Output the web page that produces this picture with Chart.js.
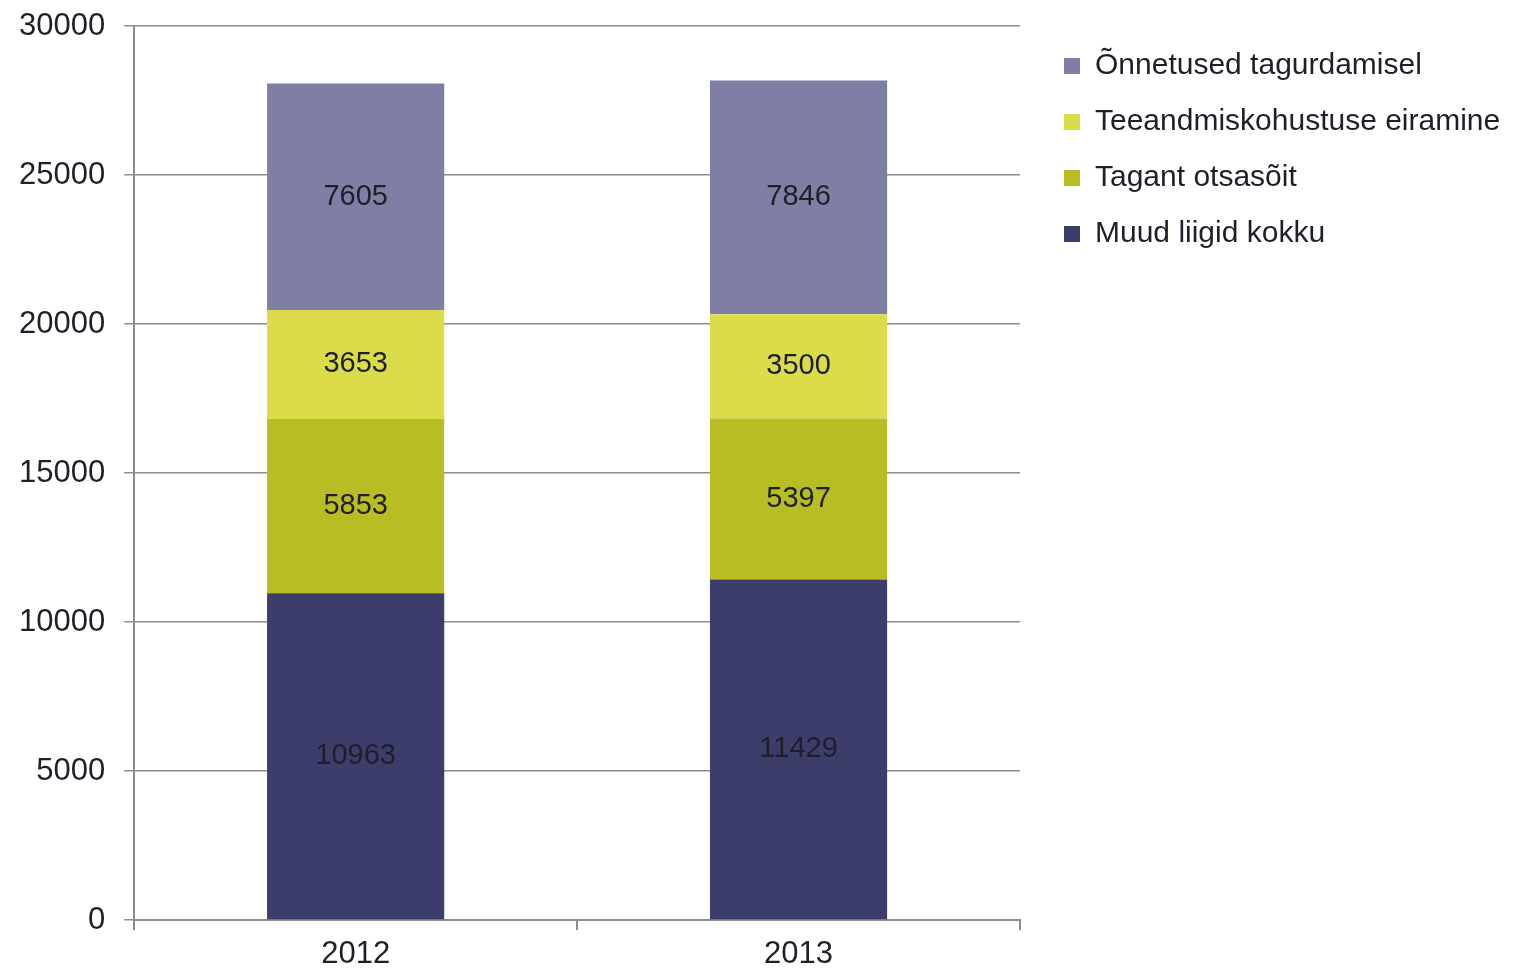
<!DOCTYPE html>
<html>
<head>
<meta charset="utf-8">
<script src="https://cdn.jsdelivr.net/npm/chart.js@4/dist/chart.umd.min.js"></script>
<style>
  html, body { margin: 0; padding: 0; background: #fff; }
  #wrap { width: 1532px; height: 971px; }
</style>
</head>
<body>
<div id="wrap"><canvas id="chart"></canvas></div>
<script>
// andmed (alt ülespoole)
const years = ['2012', '2013'];
const muudLiigid = [10963, 11429];
const tagantOtsasoit = [5853, 5397];
const teeandmine = [3653, 3500];
const tagurdamine = [7605, 7846];
const yTicks = [0, 5000, 10000, 15000, 20000, 25000, 30000];

const FONT = 'Liberation Sans, Arial, sans-serif';

// väärtused tulpade keskele
const valueLabels = {
    id: 'valueLabels',
    afterDatasetsDraw(chart) {
        const ctx = chart.ctx;
        ctx.save();
        ctx.font = '29px ' + FONT;
        ctx.fillStyle = '#1f1f2a';
        ctx.textAlign = 'center';
        ctx.textBaseline = 'middle';
        chart.data.datasets.forEach((ds, i) => {
            chart.getDatasetMeta(i).data.forEach((bar, j) => {
                const mid = (bar.y + bar.base) / 2;
                ctx.fillText(ds.data[j], bar.x, mid);
            });
        });
        ctx.restore();
    }
};

// legendi laius ja asukoht
const legendFit = {
    id: 'legendFit',
    beforeInit(chart) {
        const origFit = chart.legend.fit;
        chart.legend.fit = function () {
            origFit.bind(this)();
            this.width = 512;
        };
    },
    afterLayout(chart) {
        chart.legend.left += 18;
        chart.legend.top -= 1;
    }
};

new Chart(document.getElementById('chart'), {
    type: 'bar',
    data: {
        labels: years,
        datasets: [
            { label: 'Muud liigid kokku', data: muudLiigid, backgroundColor: '#3d3d6c' },
            { label: 'Tagant otsasõit', data: tagantOtsasoit, backgroundColor: '#b9bd24' },
            { label: 'Teeandmiskohustuse eiramine', data: teeandmine, backgroundColor: '#dcdc4b' },
            { label: 'Õnnetused tagurdamisel', data: tagurdamine, backgroundColor: '#7f7fa5' }
        ]
    },
    options: {
        responsive: true,
        maintainAspectRatio: false,
        animation: false,
        layout: { padding: { left: 0, top: 26, right: 0, bottom: -8 } },
        datasets: { bar: { categoryPercentage: 1, barPercentage: 0.4 } },
        plugins: {
            tooltip: { enabled: false },
            legend: {
                position: 'right',
                align: 'start',
                reverse: true,
                labels: {
                    boxWidth: 16,
                    boxHeight: 16,
                    padding: 26,
                    color: '#1f1f2a',
                    font: { family: FONT, size: 30 }
                }
            }
        },
        scales: {
            x: {
                stacked: true,
                offset: true,
                grid: { drawOnChartArea: false, offset: true, tickLength: 10, color: '#8c8c8c', lineWidth: 2 },
                border: { color: '#8c8c8c', width: 2 },
                ticks: { color: '#1f1f2a', padding: 9, font: { family: FONT, size: 31, lineHeight: 1.0 } }
            },
            y: {
                stacked: true,
                min: 0,
                max: 30000,
                afterBuildTicks(axis) {
                    axis.ticks = yTicks.map(v => ({ value: v }));
                },
                grid: { color: '#8c8c8c', lineWidth: 1.5, tickLength: 10 },
                border: { color: '#8c8c8c', width: 2 },
                ticks: {
                    color: '#1f1f2a',
                    padding: 19,
                    font: { family: FONT, size: 31, lineHeight: 0.4 },
                    callback: v => String(v)
                }
            }
        }
    },
    plugins: [valueLabels, legendFit]
});
</script>
</body>
</html>
